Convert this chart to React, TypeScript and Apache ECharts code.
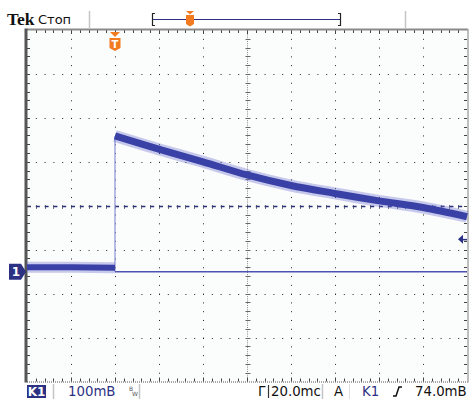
import React, { useEffect, useRef } from 'react';
import * as echarts from 'echarts';

// Time base: 20 ms/div, trigger 2 div from the left edge
const timeRangeMs = [-40, 160];
// Vertical: 100 mV/div, ground 5.5 div below the top edge
const voltRangeMv = [-250, 550];
const timeDivisionsMs = [-40, -20, 0, 20, 40, 60, 80, 100, 120, 140, 160];
const voltDivisionsMv = [-250, -150, -50, 50, 150, 250, 350, 450, 550];
const centerTimeMs = 60;
const centerVoltMv = 150;

// Channel 1 trace
const preTriggerTimeMs = [-40, -20, 0];
const preTriggerMv = [10, 10, 9];
const decayTimeMs = [0, 21, 40, 60, 80, 100, 120, 140, 160];
const decayMv = [309, 277, 250, 220, 196, 178, 161, 146, 125];
const triggerLevelMv = 74;
const groundMv = 0;

// Screen texts
const brandText = 'Tek';
const stateText = 'Стоп';
const channelText = 'K1';
const voltsPerDivText = '100mB';
const timeLetterText = 'Г';
const timePerDivText = '20.0mс';
const triggerModeText = 'A';
const triggerSourceText = 'K1';
const triggerLevelText = '74.0mB';

const NAVY = '#2c3183';
const TRACE = '#3a41a6';
const ORANGE = '#f27a1f';

const zip = (xs: number[], ys: number[]) => xs.map((x, i) => [x, ys[i]]);

function renderGraticule(_params: any, api: any) {
  const [x0, yTop] = api.coord([timeRangeMs[0], voltRangeMv[1]]);
  const [x1, yBot] = api.coord([timeRangeMs[1], voltRangeMv[0]]);
  const minorX = (x1 - x0) / 50;
  const minorY = (yBot - yTop) / 40;
  const ch: any[] = [];
  const line = (a: number, b: number, c: number, d: number, style: any) =>
    ch.push({ type: 'line', shape: { x1: a, y1: b, x2: c, y2: d }, style });

  // dotted division lines
  timeDivisionsMs.forEach((t) => {
    if (t === timeRangeMs[0] || t === timeRangeMs[1] || t === centerTimeMs) return;
    const x = Math.round(api.coord([t, 0])[0]) + 0.5;
    line(x, yTop, x, yBot, { stroke: '#222', lineWidth: 1, lineDash: [1, minorY - 1] });
  });
  voltDivisionsMv.forEach((v) => {
    if (v === voltRangeMv[0] || v === voltRangeMv[1] || v === centerVoltMv) return;
    const y = Math.round(api.coord([0, v])[1]) + 0.5;
    line(x0, y, x1, y, { stroke: '#222', lineWidth: 1, lineDash: [1, minorX - 1] });
  });

  // centre cross with minor ticks
  const cx = Math.round(api.coord([centerTimeMs, 0])[0]) + 0.5;
  const cy = Math.round(api.coord([0, centerVoltMv])[1]) + 0.5;
  line(cx, yTop, cx, yBot, { stroke: '#888', lineWidth: 1, lineDash: [1, 1.2] });
  for (let k = 1; k < 40; k++) {
    const y = Math.round(yTop + k * minorY) + 0.5;
    line(cx - 2, y, cx + 3, y, { stroke: '#666', lineWidth: 1 });
  }
  for (let k = 1; k < 50; k++) {
    const x = Math.round(x0 + k * minorX) + 0.5;
    line(x, cy - 1.5, x, cy + 2.5, { stroke: '#777', lineWidth: 1 });
  }
  line(x0, cy, x1, cy, { stroke: '#2b2f78', lineWidth: 1.5, lineDash: [4, minorX - 4] });

  // frame with ticks
  for (let k = 1; k < 50; k++) {
    const x = Math.round(x0 + k * minorX) + 0.5;
    const major = k % 5 === 0;
    line(x, yTop, x, yTop + (major ? 4 : 3), { stroke: '#444', lineWidth: 1 });
    line(x, yBot, x, yBot - (major ? 4 : 3), { stroke: '#444', lineWidth: 1 });
  }
  for (let k = 1; k < 40; k++) {
    const y = Math.round(yTop + k * minorY) + 0.5;
    line(x0, y, x0 + 3, y, { stroke: '#444', lineWidth: 1 });
    line(x1, y, x1 - 3, y, { stroke: '#444', lineWidth: 1 });
  }
  line(x0, yTop - 0.5, x1 + 1, yTop - 0.5, { stroke: '#8a8a8a', lineWidth: 2 });
  line(x0, yBot + 0.5, x1 + 1, yBot + 0.5, { stroke: '#555', lineWidth: 1, lineDash: [1, 1] });
  line(x1 + 1, yTop - 1, x1 + 1, yBot + 1, { stroke: '#a8a8a8', lineWidth: 1.5 });
  line(x0 - 1, yTop - 1.5, x0 - 1, yBot + 1, { stroke: '#555', lineWidth: 3 });

  return { type: 'group', children: ch };
}

function renderMarkers(_params: any, api: any) {
  const ch: any[] = [];
  // trigger position marker at the top of the screen
  const [tx, ty] = api.coord([0, voltRangeMv[1]]);
  ch.push({ type: 'polygon', shape: { points: [[tx - 5, ty + 2], [tx + 5, ty + 2], [tx, ty + 7]] }, style: { fill: ORANGE } });
  ch.push({
    type: 'polygon',
    shape: { points: [[tx - 5.5, ty + 8], [tx + 5.5, ty + 8], [tx + 5.5, ty + 18], [tx, ty + 21], [tx - 5.5, ty + 18]] },
    style: { fill: ORANGE },
  });
  ch.push({ type: 'text', style: { text: 'T', x: tx, y: ty + 14, fill: '#fff', font: 'bold 10px "DejaVu Sans"', align: 'center', verticalAlign: 'middle' } });

  // channel 1 ground marker
  const [gx, gy] = api.coord([timeRangeMs[0], groundMv]);
  ch.push({
    type: 'polygon',
    shape: { points: [[gx - 18, gy - 8], [gx - 6, gy - 8], [gx - 1, gy], [gx - 6, gy + 8], [gx - 18, gy + 8]] },
    style: { fill: NAVY },
  });
  ch.push({ type: 'text', style: { text: '1', x: gx - 11, y: gy + 0.5, fill: '#fff', font: 'bold 12px "DejaVu Sans"', align: 'center', verticalAlign: 'middle' } });

  // trigger level marker on the right
  const [lx, ly] = api.coord([timeRangeMs[1], triggerLevelMv]);
  ch.push({ type: 'polygon', shape: { points: [[lx - 9, ly], [lx - 4, ly - 4.5], [lx - 4, ly + 4.5]] }, style: { fill: NAVY } });
  ch.push({ type: 'line', shape: { x1: lx - 4, y1: ly + 0.5, x2: lx, y2: ly + 0.5 }, style: { stroke: NAVY, lineWidth: 1.5 } });
  return { type: 'group', children: ch };
}

const txt = (x: number, y: number, text: string, fill: string, font: string, align = 'left') => ({
  type: 'text',
  x,
  y,
  style: { text, fill, font, align, verticalAlign: 'middle' },
  z: 20,
});
const vline = (x: number, y1: number, y2: number, stroke: string, w = 1) => ({
  type: 'line',
  shape: { x1: x, y1, x2: x, y2 },
  style: { stroke, lineWidth: w },
  z: 20,
});

export default function App() {
  const ref = useRef<HTMLDivElement>(null);
  useEffect(() => {
    if (!ref.current) return;
    const chart = echarts.init(ref.current, undefined, { renderer: 'svg' });
    const statusFont = '13.3px "DejaVu Sans"';
    chart.setOption({
      animation: false,
      backgroundColor: '#ffffff',
      grid: { left: 27, top: 30, width: 440, height: 351.5, show: true, backgroundColor: '#fbfcfc', borderWidth: 0 },
      xAxis: {
        type: 'value',
        min: timeRangeMs[0],
        max: timeRangeMs[1],
        axisLine: { show: false },
        axisTick: { show: false },
        axisLabel: { show: false },
        splitLine: { show: false },
      },
      yAxis: {
        type: 'value',
        min: voltRangeMv[0],
        max: voltRangeMv[1],
        axisLine: { show: false },
        axisTick: { show: false },
        axisLabel: { show: false },
        splitLine: { show: false },
      },
      series: [
        { type: 'custom', renderItem: renderGraticule, data: [[0, 0]], clip: false, z: 1, silent: true },
        {
          type: 'line',
          data: [[0, decayMv[0]], [0, groundMv]],
          showSymbol: false,
          lineStyle: { color: '#8d92d4', width: 1.2 },
          z: 3,
        },
        {
          type: 'line',
          data: [[0, groundMv], [timeRangeMs[1], groundMv]],
          showSymbol: false,
          lineStyle: { color: '#4d53b0', width: 1.5 },
          z: 3,
        },
        { type: 'line', data: zip(preTriggerTimeMs, preTriggerMv), showSymbol: false, lineStyle: { color: 'rgba(100,106,205,0.35)', width: 11 }, z: 4 },
        { type: 'line', data: zip(decayTimeMs, decayMv), smooth: 0.3, showSymbol: false, lineStyle: { color: 'rgba(100,106,205,0.35)', width: 12 }, z: 4 },
        { type: 'line', data: zip(preTriggerTimeMs, preTriggerMv), showSymbol: false, lineStyle: { color: TRACE, width: 6 }, z: 5 },
        { type: 'line', data: zip(decayTimeMs, decayMv), smooth: 0.3, showSymbol: false, lineStyle: { color: TRACE, width: 7 }, z: 5 },
        { type: 'custom', renderItem: renderMarkers, data: [[0, 0]], clip: false, z: 10, silent: true },
      ],
      graphic: [
        // header
        txt(7, 19, brandText, '#111', 'bold 17.5px "Liberation Serif"'),
        txt(38, 19, stateText, '#111', '13px "DejaVu Sans"'),
        vline(89.5, 11, 28, '#c4c4c4', 1.5),
        {
          type: 'polyline',
          shape: { points: [[155, 13.5], [152.5, 13.5], [152.5, 25.5], [155, 25.5]] },
          style: { stroke: '#222', lineWidth: 1.2, fill: null },
          z: 20,
        },
        {
          type: 'polyline',
          shape: { points: [[338, 13.5], [340.5, 13.5], [340.5, 25.5], [338, 25.5]] },
          style: { stroke: '#222', lineWidth: 1.2, fill: null },
          z: 20,
        },
        { type: 'line', shape: { x1: 153, y1: 19.5, x2: 340, y2: 19.5 }, style: { stroke: NAVY, lineWidth: 1 }, z: 20 },
        { type: 'polygon', shape: { points: [[186, 11], [194, 11], [190, 14.5]] }, style: { fill: ORANGE }, z: 21 },
        {
          type: 'polygon',
          shape: { points: [[186, 15], [194, 15], [194, 24], [190, 26.5], [186, 24]] },
          style: { fill: ORANGE },
          z: 21,
        },
        txt(190, 20.5, 'T', '#fff', 'bold 8px "DejaVu Sans"', 'center'),
        vline(405.5, 11, 28, '#c4c4c4', 1.5),
        // status bar
        { type: 'rect', shape: { x: 27, y: 385, width: 19, height: 13 }, style: { fill: NAVY }, z: 20 },
        txt(36.5, 391.5, channelText, '#fff', 'bold 12px "DejaVu Sans"', 'center'),
        vline(53.5, 384, 399, '#c4c4c4', 1.5),
        txt(68, 391.5, voltsPerDivText, NAVY, statusFont),
        txt(129, 388.5, 'B', '#555', '6px "DejaVu Sans"'),
        txt(132, 393.5, 'W', '#555', '6px "DejaVu Sans"'),
        vline(139.5, 384, 399, '#c4c4c4', 1.5),
        txt(258, 391.5, timeLetterText, '#111', statusFont),
        vline(268.5, 385, 398, '#333', 1.2),
        txt(271, 391.5, timePerDivText, '#111', statusFont),
        vline(322.5, 384, 399, '#c4c4c4', 1.5),
        txt(334, 391.5, triggerModeText, '#111', statusFont),
        vline(349.5, 384, 399, '#e0e0e0', 1),
        txt(362, 391.5, triggerSourceText, NAVY, statusFont),
        {
          type: 'polyline',
          shape: { points: [[393, 396], [396, 396], [399, 387], [402, 387]] },
          style: { stroke: '#111', lineWidth: 1.5, fill: null },
          z: 20,
        },
        txt(415, 391.5, triggerLevelText, '#111', statusFont),
      ],
    });
    return () => chart.dispose();
  }, []);
  return (
    <div
      ref={ref}
      style={{ position: 'fixed', left: 0, top: 0, width: 470, height: 399, background: '#fff' }}
    />
  );
}
